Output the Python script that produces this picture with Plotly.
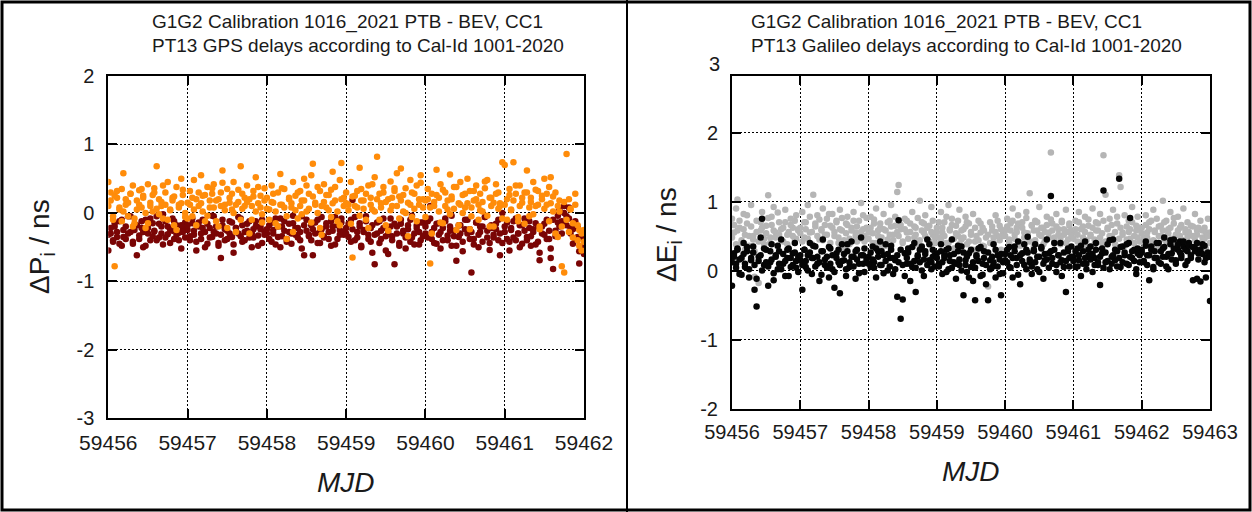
import plotly.graph_objects as go

# ---------------------------------------------------------------------------
# Data: GPS (left) and Galileo (right) delay differences vs. MJD.
# Two satellite tracks are reported at every epoch (suffix _a / _b).
# ---------------------------------------------------------------------------
mjd_gps = [
    59456.00, 59456.03, 59456.06, 59456.08, 59456.11, 59456.14, 59456.17, 59456.19, 59456.22, 59456.25, 59456.28, 59456.31,
    59456.33, 59456.36, 59456.39, 59456.42, 59456.44, 59456.47, 59456.50, 59456.53, 59456.56, 59456.58, 59456.61, 59456.64,
    59456.67, 59456.69, 59456.72, 59456.75, 59456.78, 59456.81, 59456.83, 59456.86, 59456.89, 59456.92, 59456.94, 59456.97,
    59457.00, 59457.03, 59457.06, 59457.08, 59457.11, 59457.14, 59457.17, 59457.19, 59457.22, 59457.25, 59457.28, 59457.31,
    59457.33, 59457.36, 59457.39, 59457.42, 59457.44, 59457.47, 59457.50, 59457.53, 59457.56, 59457.58, 59457.61, 59457.64,
    59457.67, 59457.69, 59457.72, 59457.75, 59457.78, 59457.81, 59457.83, 59457.86, 59457.89, 59457.92, 59457.94, 59457.97,
    59458.00, 59458.03, 59458.06, 59458.08, 59458.11, 59458.14, 59458.17, 59458.19, 59458.22, 59458.25, 59458.28, 59458.31,
    59458.33, 59458.36, 59458.39, 59458.42, 59458.44, 59458.47, 59458.50, 59458.53, 59458.56, 59458.58, 59458.61, 59458.64,
    59458.67, 59458.69, 59458.72, 59458.75, 59458.78, 59458.81, 59458.83, 59458.86, 59458.89, 59458.92, 59458.94, 59458.97,
    59459.00, 59459.03, 59459.06, 59459.08, 59459.11, 59459.14, 59459.17, 59459.19, 59459.22, 59459.25, 59459.28, 59459.31,
    59459.33, 59459.36, 59459.39, 59459.42, 59459.44, 59459.47, 59459.50, 59459.53, 59459.56, 59459.58, 59459.61, 59459.64,
    59459.67, 59459.69, 59459.72, 59459.75, 59459.78, 59459.81, 59459.83, 59459.86, 59459.89, 59459.92, 59459.94, 59459.97,
    59460.00, 59460.03, 59460.06, 59460.08, 59460.11, 59460.14, 59460.17, 59460.19, 59460.22, 59460.25, 59460.28, 59460.31,
    59460.33, 59460.36, 59460.39, 59460.42, 59460.44, 59460.47, 59460.50, 59460.53, 59460.56, 59460.58, 59460.61, 59460.64,
    59460.67, 59460.69, 59460.72, 59460.75, 59460.78, 59460.81, 59460.83, 59460.86, 59460.89, 59460.92, 59460.94, 59460.97,
    59461.00, 59461.03, 59461.06, 59461.08, 59461.11, 59461.14, 59461.17, 59461.19, 59461.22, 59461.25, 59461.28, 59461.31,
    59461.33, 59461.36, 59461.39, 59461.42, 59461.44, 59461.47, 59461.50, 59461.53, 59461.56, 59461.58, 59461.61, 59461.64,
    59461.67, 59461.69, 59461.72, 59461.75, 59461.78, 59461.81, 59461.83, 59461.86, 59461.89, 59461.92, 59461.94, 59461.97,
    59462.00,
]

# Delta P1 (orange) in ns
dp1_a = [
    0.45, 0.30, -0.10, -0.78, 0.22, 0.05, 0.35, 0.58, 0.12, -0.05, 0.28, 0.40, -0.15, 0.18, 0.33, 0.08, 0.25, -0.22,
    0.42, 0.15, 0.02, 0.36, 0.68, 0.20, 0.10, -0.08, 0.30, 0.45, 0.05, 0.22, -0.18, 0.38, 0.12, 0.50, 0.26, 0.00,
    0.15, 0.32, -0.05, 0.48, 0.20, 0.10, 0.55, 0.25, -0.12, 0.38, 0.08, 0.28, 0.42, 0.18, -0.20, 0.30, 0.62, 0.12,
    0.35, 0.22, 0.05, 0.45, -0.28, 0.16, 0.68, 0.28, 0.10, 0.40, 0.20, -0.10, 0.32, 0.52, 0.14, 0.25, -0.02, 0.36,
    0.22, 0.05, 0.40, 0.15, -0.15, 0.30, 0.57, 0.12, 0.35, -0.38, 0.20, 0.08, 0.45, 0.25, -0.08, 0.32, 0.18, 0.50,
    0.02, 0.28, 0.55, 0.72, 0.15, 0.38, -0.22, 0.10, 0.42, 0.26, 0.04, 0.34, 0.60, 0.18, -0.12, 0.48, 0.73, 0.22,
    0.30, 0.12, 0.45, -0.65, 0.25, 0.08, 0.66, 0.35, 0.18, -0.10, 0.40, 0.22, 0.05, 0.52, 0.82, 0.28, 0.14, 0.38,
    -0.18, 0.20, 0.46, 0.10, 0.32, 0.58, 0.24, 0.65, 0.02, 0.36, 0.15, 0.48, -0.06, 0.28, 0.40, 0.12, 0.55, 0.20,
    0.18, 0.35, -0.74, 0.28, 0.10, 0.63, 0.22, 0.42, -0.15, 0.30, 0.05, 0.56, 0.20, 0.38, -0.25, 0.14, 0.45, 0.26,
    0.08, 0.50, 0.32, -0.05, 0.18, 0.40, 0.12, 0.28, 0.02, 0.36, 0.48, -0.20, 0.22, 0.15, 0.42, 0.30, 0.10, 0.74,
    0.70, 0.20, 0.35, 0.05, 0.74, 0.28, -0.12, 0.40, 0.15, 0.30, 0.62, -0.05, 0.22, 0.45, 0.10, 0.32, -0.20, 0.25,
    0.50, 0.12, 0.38, 0.52, 0.02, 0.30, -0.35, 0.18, -0.78, -0.87, 0.86, 0.20, 0.05, -0.15, 0.28, -0.40, -0.25, -0.55,
    -0.42,
]
dp1_b = [
    0.10, 0.18, -0.05, 0.25, 0.32, 0.08, -0.12, 0.02, 0.20, 0.15, 0.28, -0.20, -0.08, 0.05, 0.12, 0.35, 0.22, 0.00,
    -0.15, 0.10, 0.26, 0.30, 0.06, -0.02, 0.16, 0.40, 0.12, -0.10, 0.04, 0.18, 0.24, -0.25, 0.08, 0.14, 0.34, -0.06,
    -0.08, 0.12, 0.22, 0.05, -0.18, 0.30, 0.14, 0.02, 0.26, -0.04, 0.18, 0.36, 0.08, -0.12, 0.20, 0.10, 0.44, 0.04,
    -0.22, 0.15, 0.28, 0.00, 0.12, 0.34, -0.10, 0.06, 0.22, 0.16, -0.30, 0.10, 0.24, 0.02, 0.38, 0.08, -0.14, 0.18,
    0.06, -0.10, 0.16, 0.28, 0.02, -0.20, 0.12, 0.36, 0.08, -0.05, 0.22, 0.14, -0.28, 0.04, 0.30, 0.10, -0.02, 0.18,
    0.40, 0.06, -0.14, 0.24, 0.12, 0.00, 0.32, -0.32, 0.16, 0.08, 0.26, -0.06, 0.14, 0.38, 0.02, -0.18, 0.20, 0.10,
    0.14, 0.04, -0.16, 0.24, 0.10, 0.32, -0.04, 0.18, 0.06, 0.28, -0.22, 0.12, 0.42, 0.02, 0.20, -0.10, 0.08, 0.30,
    0.16, -0.26, 0.04, 0.22, 0.36, 0.10, -0.08, 0.18, 0.26, 0.00, -0.34, 0.12, 0.30, 0.06, -0.12, 0.20, 0.44, 0.08,
    -0.06, 0.20, 0.08, -0.30, 0.16, 0.26, 0.02, -0.14, 0.34, 0.10, 0.18, -0.02, 0.24, 0.06, 0.38, -0.18, 0.12, 0.00,
    0.28, 0.14, -0.24, 0.08, 0.32, 0.20, -0.10, 0.04, 0.16, 0.46, -0.04, 0.22, 0.10, -0.20, 0.28, 0.06, 0.14, -0.08,
    0.12, -0.10, 0.26, 0.04, 0.18, 0.40, -0.06, 0.10, 0.22, -0.16, 0.30, 0.08, 0.16, -0.02, 0.34, 0.12, -0.24, 0.20,
    0.06, 0.28, -0.12, 0.14, 0.24, -0.30, 0.10, 0.02, -0.20, 0.16, -0.10, -0.28, 0.06, -0.36, 0.12, -0.18, -0.48, -0.30,
    -0.25,
]

# Delta P2 (dark red) in ns
dp2_a = [
    -0.55, -0.30, -0.42, -0.20, -0.35, -0.12, -0.48, -0.25, -0.38, -0.05, -0.28, -0.45, -0.18, -0.62, -0.33, -0.22, -0.50, -0.10,
    -0.30, -0.40, -0.15, -0.27, -0.05, -0.36, -0.20, -0.46, -0.12, -0.31, -0.24, -0.08, -0.38, -0.18, -0.29, -0.52, -0.22, -0.14,
    -0.25, -0.40, -0.15, -0.32, -0.55, -0.20, -0.38, -0.10, -0.28, -0.45, -0.22, -0.35, -0.05, -0.30, -0.48, -0.66, -0.18, -0.40,
    -0.26, -0.12, -0.35, -0.58, -0.22, -0.30, -0.08, -0.42, -0.28, -0.16, -0.36, -0.50, -0.24, -0.12, -0.33, -0.20, -0.44, -0.27,
    -0.30, -0.18, -0.42, -0.25, -0.08, -0.35, -0.50, -0.20, -0.12, -0.38, -0.28, -0.45, -0.15, -0.32, -0.22, -0.40, -0.05, -0.62,
    -0.26, -0.34, -0.18, -0.62, -0.30, -0.10, -0.44, -0.24, -0.36, -0.15, -0.28, -0.48, -0.20, -0.06, -0.38, -0.25, -0.14, -0.32,
    -0.22, -0.35, -0.10, 0.19, -0.40, -0.28, -0.15, -0.48, -0.25, -0.05, -0.32, -0.42, -0.18, -0.75, -0.30, -0.12, -0.38, -0.22,
    -0.55, -0.28, -0.08, -0.34, -0.75, -0.20, -0.44, -0.16, -0.30, -0.52, -0.24, -0.10, -0.36, -0.46, -0.18, -0.28, -0.40, -0.14,
    -0.30, -0.12, 0.10, -0.38, -0.22, -0.45, -0.15, -0.28, -0.40, -0.08, -0.33, -0.20, -0.48, -0.26, -0.70, -0.35, -0.18, -0.42,
    -0.10, -0.30, -0.24, -0.87, -0.38, -0.14, -0.50, -0.28, -0.20, -0.06, -0.36, -0.44, -0.22, -0.32, -0.16, -0.40, -0.62, 0.00,
    -0.20, -0.38, -0.55, -0.25, -0.12, -0.40, -0.30, -0.18, -0.45, -0.08, -0.35, -0.22, -0.48, -0.28, -0.15, -0.42, -0.69, -0.20,
    -0.32, -0.10, -0.38, -0.66, -0.82, -0.26, -0.14, 0.05, -0.30, 0.10, -0.05, 0.08, -0.22, -0.45, -0.12, -0.35, -0.74, -0.50,
    -0.60,
]
dp2_b = [
    -0.32, -0.22, -0.40, -0.15, -0.28, -0.45, -0.10, -0.35, -0.20, -0.30, -0.05, -0.42, -0.25, -0.18, -0.38, -0.12, -0.28, -0.48,
    -0.22, -0.08, -0.34, -0.26, -0.40, -0.16, -0.30, -0.02, -0.36, -0.20, -0.44, -0.26, -0.12, -0.32, -0.40, -0.18, -0.28, -0.36,
    -0.18, -0.34, -0.08, -0.26, -0.42, -0.14, -0.30, -0.22, -0.50, -0.16, -0.36, -0.04, -0.28, -0.20, -0.44, -0.32, -0.10, -0.24,
    -0.38, -0.30, -0.14, -0.46, -0.22, -0.06, -0.34, -0.18, -0.40, -0.26, -0.12, -0.30, -0.36, -0.20, -0.48, -0.24, -0.10, -0.32,
    -0.24, -0.38, -0.14, -0.30, -0.46, -0.20, -0.08, -0.34, -0.26, -0.42, -0.16, -0.30, -0.04, -0.22, -0.36, -0.28, -0.52, -0.18,
    -0.10, -0.32, -0.40, -0.24, -0.14, -0.44, -0.28, -0.06, -0.34, -0.20, -0.38, -0.12, -0.26, -0.46, -0.18, -0.32, -0.08, -0.28,
    -0.30, -0.16, -0.42, -0.24, -0.06, -0.36, -0.20, -0.50, -0.28, -0.12, -0.38, -0.22, -0.58, -0.32, -0.14, -0.44, -0.26, -0.08,
    -0.34, -0.60, -0.20, -0.40, -0.16, -0.30, -0.48, -0.10, -0.26, -0.36, -0.18, -0.42, -0.04, -0.30, -0.22, -0.46, -0.14, -0.34,
    -0.20, -0.36, -0.08, -0.28, -0.44, -0.16, -0.32, -0.52, -0.22, -0.12, -0.40, -0.26, -0.04, -0.34, -0.48, -0.18, -0.30, -0.56,
    -0.24, -0.10, -0.38, -0.28, -0.46, -0.14, -0.32, -0.20, -0.42, -0.06, -0.26, -0.54, -0.18, -0.36, -0.24, -0.10, -0.30, -0.44,
    -0.28, -0.14, -0.42, -0.22, -0.36, -0.08, -0.30, -0.50, -0.18, -0.26, -0.40, -0.12, -0.34, -0.24, -0.46, -0.20, -0.58, -0.30,
    -0.16, -0.38, -0.26, -0.52, -0.10, -0.34, -0.04, -0.20, -0.12, 0.00, -0.18, -0.08, -0.30, -0.24, -0.40, -0.20, -0.56, -0.34,
    -0.38,
]

mjd_gal = [
    59456.00, 59456.03, 59456.06, 59456.08, 59456.11, 59456.14, 59456.17, 59456.19, 59456.22, 59456.25, 59456.28, 59456.31,
    59456.33, 59456.36, 59456.39, 59456.42, 59456.44, 59456.47, 59456.50, 59456.53, 59456.56, 59456.58, 59456.61, 59456.64,
    59456.67, 59456.69, 59456.72, 59456.75, 59456.78, 59456.81, 59456.83, 59456.86, 59456.89, 59456.92, 59456.94, 59456.97,
    59457.00, 59457.03, 59457.06, 59457.08, 59457.11, 59457.14, 59457.17, 59457.19, 59457.22, 59457.25, 59457.28, 59457.31,
    59457.33, 59457.36, 59457.39, 59457.42, 59457.44, 59457.47, 59457.50, 59457.53, 59457.56, 59457.58, 59457.61, 59457.64,
    59457.67, 59457.69, 59457.72, 59457.75, 59457.78, 59457.81, 59457.83, 59457.86, 59457.89, 59457.92, 59457.94, 59457.97,
    59458.00, 59458.03, 59458.06, 59458.08, 59458.11, 59458.14, 59458.17, 59458.19, 59458.22, 59458.25, 59458.28, 59458.31,
    59458.33, 59458.36, 59458.39, 59458.42, 59458.44, 59458.47, 59458.50, 59458.53, 59458.56, 59458.58, 59458.61, 59458.64,
    59458.67, 59458.69, 59458.72, 59458.75, 59458.78, 59458.81, 59458.83, 59458.86, 59458.89, 59458.92, 59458.94, 59458.97,
    59459.00, 59459.03, 59459.06, 59459.08, 59459.11, 59459.14, 59459.17, 59459.19, 59459.22, 59459.25, 59459.28, 59459.31,
    59459.33, 59459.36, 59459.39, 59459.42, 59459.44, 59459.47, 59459.50, 59459.53, 59459.56, 59459.58, 59459.61, 59459.64,
    59459.67, 59459.69, 59459.72, 59459.75, 59459.78, 59459.81, 59459.83, 59459.86, 59459.89, 59459.92, 59459.94, 59459.97,
    59460.00, 59460.03, 59460.06, 59460.08, 59460.11, 59460.14, 59460.17, 59460.19, 59460.22, 59460.25, 59460.28, 59460.31,
    59460.33, 59460.36, 59460.39, 59460.42, 59460.44, 59460.47, 59460.50, 59460.53, 59460.56, 59460.58, 59460.61, 59460.64,
    59460.67, 59460.69, 59460.72, 59460.75, 59460.78, 59460.81, 59460.83, 59460.86, 59460.89, 59460.92, 59460.94, 59460.97,
    59461.00, 59461.03, 59461.06, 59461.08, 59461.11, 59461.14, 59461.17, 59461.19, 59461.22, 59461.25, 59461.28, 59461.31,
    59461.33, 59461.36, 59461.39, 59461.42, 59461.44, 59461.47, 59461.50, 59461.53, 59461.56, 59461.58, 59461.61, 59461.64,
    59461.67, 59461.69, 59461.72, 59461.75, 59461.78, 59461.81, 59461.83, 59461.86, 59461.89, 59461.92, 59461.94, 59461.97,
    59462.00, 59462.03, 59462.06, 59462.08, 59462.11, 59462.14, 59462.17, 59462.19, 59462.22, 59462.25, 59462.28, 59462.31,
    59462.33, 59462.36, 59462.39, 59462.42, 59462.44, 59462.47, 59462.50, 59462.53, 59462.56, 59462.58, 59462.61, 59462.64,
    59462.67, 59462.69, 59462.72, 59462.75, 59462.78, 59462.81, 59462.83, 59462.86, 59462.89, 59462.92, 59462.94, 59462.97,
    59463.00,
]

# Delta E1 (grey) in ns
de1_a = [
    0.75, 0.55, 0.90, 1.03, 0.62, 0.40, 0.82, 0.30, 0.68, 0.50, 0.95, 0.45, -0.09, 0.72, -0.18, 0.58, 0.85, 0.38,
    0.65, 1.09, 0.48, 0.78, 0.92, 0.55, 0.35, 0.70, 0.60, 0.42, 0.88, 0.52, 0.30, 0.75, 0.62, 0.45, 0.80, 0.58,
    0.62, 0.85, 0.48, 0.70, 0.95, 0.55, 0.38, 1.10, 0.68, 0.80, 0.45, 0.60, 0.90, 0.52, 0.75, 0.35, 0.65, 0.82,
    0.50, 0.72, 0.40, 0.88, 0.58, 0.30, 0.68, 0.78, 0.46, 0.62, 0.85, 0.55, 0.42, 0.72, 0.98, 0.60, 0.50, 0.76,
    0.55, 0.78, 0.40, 0.68, 0.90, 0.50, 0.62, 0.35, 0.82, 0.58, 0.45, 0.72, 0.95, 0.52, 0.65, 1.14, 1.24, 0.60,
    0.42, 0.75, 0.55, 0.30, 0.68, 0.85, 0.48, 0.62, 0.38, 1.01, 0.70, 0.55, 0.80, 0.45, 0.65, 0.92, 0.52, 0.40,
    0.62, 0.48, 0.85, 0.55, 0.70, 0.40, 0.95, 0.58, 0.75, 0.32, 0.65, 0.50, 0.88, 0.45, 0.60, 0.78, 0.38, 0.68,
    0.52, 0.82, 0.42, 0.25, 0.72, 0.55, 0.62, 0.35, 0.48, -0.23, 0.70, 0.58, 0.40, 0.80, 0.50, 0.65, 0.30, 0.55,
    0.58, 0.75, 0.45, 0.68, 0.90, 0.52, 0.62, 0.80, 0.40, 0.70, 0.55, 0.85, 0.48, 1.12, 0.65, 0.35, 0.72, 0.58,
    0.92, 0.50, 0.62, 0.42, 0.78, 0.55, 1.71, 0.68, 0.48, 0.82, 0.60, 0.38, 0.72, 0.52, 0.88, 0.45, 0.65, 0.58,
    0.55, 0.72, 0.42, 0.85, 0.60, 0.48, 0.78, 0.35, 0.65, 0.52, 0.90, 0.45, 0.70, 0.58, 0.82, 0.40, 1.67, 1.10,
    0.62, 0.75, 0.50, 0.88, 0.38, 0.68, 1.38, 1.21, 0.55, 0.80, 0.45, 0.72, 0.60, 0.92, 0.50, 0.65, 0.78, 0.42,
    0.62, 0.48, 0.80, 0.55, 0.70, 0.42, 0.88, 0.58, 0.75, 0.50, 0.65, 1.01, 0.45, 0.72, 0.60, 0.85, 0.38, 0.68,
    0.52, 0.78, 0.62, 0.45, 0.90, 0.55, 0.70, 0.40, 0.65, 0.50, 0.82, 0.58, 0.35, 0.72, 0.48, 0.62, 0.55, 0.75,
    0.55,
]
de1_b = [
    0.48, 0.66, 0.38, 0.58, 0.72, 0.44, 0.60, 0.52, 0.80, 0.36, 0.64, 0.50, 0.28, 0.56, 0.42, 0.70, 0.62, 0.46,
    0.54, 0.76, 0.40, 0.66, 0.58, 0.48, 0.84, 0.52, 0.44, 0.62, 0.70, 0.38, 0.56, 0.66, 0.50, 0.72, 0.46, 0.60,
    0.54, 0.42, 0.70, 0.60, 0.46, 0.78, 0.56, 0.36, 0.64, 0.50, 0.74, 0.58, 0.44, 0.66, 0.52, 0.82, 0.40, 0.62,
    0.56, 0.70, 0.48, 0.60, 0.76, 0.44, 0.54, 0.66, 0.38, 0.58, 0.72, 0.50, 0.64, 0.46, 0.56, 0.80, 0.42, 0.62,
    0.46, 0.62, 0.54, 0.74, 0.40, 0.58, 0.68, 0.48, 0.60, 0.36, 0.70, 0.52, 0.64, 0.44, 0.78, 0.56, 0.50, 0.66,
    0.40, 0.60, 0.72, 0.46, 0.56, 0.34, 0.64, 0.52, 0.76, 0.44, 0.58, 0.68, 0.50, 0.62, 0.42, 0.56, 0.72, 0.48,
    0.56, 0.70, 0.44, 0.62, 0.50, 0.78, 0.40, 0.60, 0.66, 0.46, 0.54, 0.72, 0.38, 0.58, 0.48, 0.64, 0.70, 0.42,
    0.56, 0.30, 0.62, 0.50, 0.44, 0.68, 0.36, 0.58, 0.26, 0.52, 0.40, 0.64, 0.48, 0.56, 0.72, 0.44, 0.60, 0.50,
    0.50, 0.64, 0.40, 0.58, 0.72, 0.46, 0.56, 0.68, 0.36, 0.62, 0.48, 0.76, 0.54, 0.42, 0.66, 0.58, 0.44, 0.70,
    0.52, 0.62, 0.38, 0.56, 0.66, 0.48, 0.74, 0.58, 0.42, 0.64, 0.52, 0.46, 0.70, 0.60, 0.40, 0.56, 0.68, 0.50,
    0.46, 0.60, 0.52, 0.70, 0.40, 0.64, 0.56, 0.44, 0.74, 0.50, 0.62, 0.38, 0.58, 0.68, 0.48, 0.54, 0.72, 0.42,
    0.60, 0.50, 0.66, 0.44, 0.56, 0.78, 0.46, 0.62, 0.52, 0.36, 0.64, 0.56, 0.46, 0.70, 0.40, 0.58, 0.48, 0.62,
    0.54, 0.40, 0.66, 0.48, 0.60, 0.72, 0.44, 0.56, 0.36, 0.64, 0.50, 0.58, 0.70, 0.42, 0.54, 0.62, 0.46, 0.76,
    0.38, 0.58, 0.50, 0.66, 0.42, 0.60, 0.48, 0.56, 0.34, 0.64, 0.44, 0.52, 0.62, 0.40, 0.58, 0.46, 0.32, 0.50,
    0.40,
]

# Delta E5a (black) in ns
de5_a = [
    -0.22, 0.25, 0.10, 0.32, -0.05, 0.18, 0.40, 0.05, 0.28, -0.10, 0.15, 0.35, -0.28, -0.52, 0.20, 0.48, 0.75, 0.08,
    0.30, -0.22, 0.12, 0.38, -0.14, 0.22, 0.02, 0.28, 0.45, 0.10, -0.08, 0.18, 0.32, 0.05, 0.25, 0.40, 0.14, -0.02,
    0.15, -0.28, 0.30, 0.05, 0.22, 0.40, -0.05, 0.18, 0.35, 0.10, -0.15, 0.28, 0.45, 0.08, 0.20, -0.10, 0.32, 0.02,
    -0.25, 0.25, 0.12, -0.33, 0.38, 0.15, -0.08, 0.28, 0.05, 0.42, 0.20, -0.12, 0.30, 0.10, 0.48, 0.22, -0.02, 0.18,
    0.20, 0.05, 0.35, 0.12, -0.10, 0.28, 0.42, 0.08, 0.22, 0.38, 0.00, 0.18, 0.30, -0.05, 0.15, -0.38, 0.73, -0.70,
    -0.42, 0.25, 0.10, 0.32, -0.15, 0.05, 0.40, -0.31, 0.20, 0.12, 0.35, -0.08, 0.28, 0.45, 0.15, 0.02, 0.30, 0.22,
    0.25, 0.10, 0.38, -0.05, 0.18, 0.30, 0.02, 0.22, 0.45, 0.12, -0.12, 0.28, 0.08, 0.35, -0.36, 0.15, -0.02, 0.25,
    0.05, -0.15, -0.43, 0.20, 0.32, -0.08, 0.10, 0.28, -0.20, -0.43, 0.15, 0.05, 0.38, -0.10, 0.22, -0.05, -0.36, 0.12,
    0.15, 0.30, 0.05, 0.22, -0.10, 0.35, 0.18, 0.42, -0.20, 0.25, 0.08, 0.30, 0.49, 0.12, -0.05, 0.28, 0.38, 0.02,
    0.20, 0.32, -0.12, 0.15, 0.45, 0.25, 1.08, 0.10, 0.30, -0.02, 0.22, 0.40, 0.15, 0.05, -0.31, 0.28, 0.18, 0.35,
    0.20, 0.05, 0.32, 0.15, -0.08, 0.28, 0.42, 0.10, 0.22, 0.35, -0.02, 0.18, 0.30, 0.08, -0.21, 0.25, 1.16, 0.12,
    0.38, 0.02, 0.20, 0.45, 0.15, 0.28, 1.33, 0.05, 0.35, 0.22, 0.10, 0.40, 0.76, 0.18, 0.30, -0.05, 0.25, 0.12,
    0.30, 0.12, 0.42, 0.22, -0.14, 0.35, 0.05, 0.28, 0.18, 0.40, 0.10, 0.32, 0.48, 0.20, 0.02, 0.38, 0.25, 0.45,
    0.15, 0.30, 0.42, 0.22, 0.35, 0.08, 0.28, 0.40, 0.18, -0.14, 0.32, -0.12, 0.25, -0.16, 0.38, 0.12, -0.10, 0.20,
    -0.44,
]
de5_b = [
    0.12, 0.20, 0.04, 0.30, 0.16, -0.06, 0.24, 0.10, 0.34, 0.02, 0.18, 0.26, 0.08, -0.12, 0.14, 0.22, 0.00, 0.32,
    0.12, 0.06, 0.28, 0.16, -0.04, 0.20, 0.36, 0.10, 0.02, 0.24, 0.14, 0.30, -0.08, 0.18, 0.08, 0.26, 0.04, 0.20,
    0.22, 0.08, 0.30, 0.14, 0.00, 0.26, 0.18, 0.36, 0.06, 0.20, 0.12, -0.06, 0.28, 0.16, 0.04, 0.34, 0.10, 0.22,
    -0.02, 0.18, 0.30, 0.08, 0.14, 0.24, 0.02, 0.38, 0.12, 0.20, 0.06, 0.28, 0.16, -0.04, 0.22, 0.10, 0.32, 0.14,
    0.10, 0.26, 0.16, 0.04, 0.32, 0.20, 0.08, 0.28, -0.04, 0.14, 0.24, 0.06, 0.36, 0.18, 0.02, 0.22, 0.12, 0.30,
    0.08, -0.08, 0.18, 0.26, 0.10, 0.34, 0.14, 0.04, 0.22, 0.30, 0.00, 0.16, 0.24, 0.08, 0.38, 0.12, 0.20, 0.06,
    0.18, 0.06, 0.28, 0.12, 0.22, -0.02, 0.32, 0.14, 0.04, 0.24, 0.10, 0.36, 0.16, 0.00, 0.26, 0.08, 0.20, -0.10,
    0.30, 0.12, 0.04, 0.22, 0.14, 0.34, -0.06, 0.18, 0.08, 0.26, 0.02, 0.20, 0.12, 0.30, 0.06, 0.16, 0.24, -0.04,
    0.24, 0.12, 0.34, 0.04, 0.18, 0.28, 0.08, -0.06, 0.22, 0.14, 0.38, 0.02, 0.26, 0.16, 0.06, 0.30, 0.12, 0.20,
    -0.02, 0.34, 0.10, 0.24, 0.16, 0.04, 0.28, 0.18, 0.40, 0.08, 0.22, 0.12, -0.08, 0.26, 0.14, 0.32, 0.06, 0.20,
    0.14, 0.28, 0.06, 0.22, 0.36, 0.10, 0.18, 0.02, 0.30, 0.16, 0.24, 0.08, 0.40, 0.12, 0.20, 0.32, 0.04, 0.26,
    0.14, 0.44, 0.10, 0.22, 0.30, 0.06, 0.18, 0.34, 0.12, 0.26, 0.38, 0.08, 0.20, 0.28, 0.14, 0.02, 0.32, 0.22,
    0.26, 0.14, 0.36, 0.08, 0.22, 0.30, 0.02, 0.18, 0.40, 0.12, 0.28, 0.20, 0.34, 0.06, 0.24, 0.44, 0.16, 0.32,
    0.10, 0.38, 0.26, 0.18, 0.42, 0.30, 0.14, 0.36, 0.22, 0.34, 0.28, 0.40, 0.16, 0.30, 0.24, 0.36, 0.18, 0.26,
    0.20,
]

for series in (dp1_a, dp1_b, dp2_a, dp2_b):
    assert len(series) == len(mjd_gps)
for series in (de1_a, de1_b, de5_a, de5_b):
    assert len(series) == len(mjd_gal)

# Axis ticks
gps_x_ticks = [59456, 59457, 59458, 59459, 59460, 59461, 59462]
gps_y_ticks = [-3, -2, -1, 0, 1, 2]
gal_x_ticks = [59456, 59457, 59458, 59459, 59460, 59461, 59462, 59463]
gal_y_ticks = [-2, -1, 0, 1, 2]
gal_y_top_label = 3

title_gps = ["G1G2 Calibration 1016_2021 PTB - BEV, CC1",
             "PT13 GPS delays according to Cal-Id 1001-2020"]
title_gal = ["G1G2 Calibration 1016_2021 PTB - BEV, CC1",
             "PT13 Galileo delays according to Cal-Id 1001-2020"]

# ---------------------------------------------------------------------------
# Styling
# ---------------------------------------------------------------------------
W, H = 1252, 512
FONT = "Liberation Sans, Arial, sans-serif"
INK = "#1a1a1a"
ORANGE = "#FF8C0A"
DARKRED = "#7A0505"
GREY = "#B5B5B5"
BLACK = "#050505"
MS = 6.5


def px_x(p):
    return p / W


def px_y(p):
    return 1 - p / H


def axis_style(ticks, rng, domain, font_size):
    return dict(
        domain=domain, range=rng, tickvals=ticks, ticktext=[str(t) for t in ticks],
        showline=True, linewidth=2, linecolor="black", mirror="ticks",
        ticks="inside", ticklen=9, tickwidth=2, tickcolor="black",
        showgrid=True, gridcolor="black", gridwidth=1.3, griddash="1.5px,2.5px",
        zeroline=False, fixedrange=True,
        tickfont=dict(family=FONT, size=font_size, color=INK),
    )


fig = go.Figure()
# P2 underneath, P1 on top
fig.add_trace(go.Scatter(x=mjd_gps + mjd_gps, y=dp2_a + dp2_b, mode="markers", xaxis="x", yaxis="y",
                         marker=dict(size=MS, color=DARKRED), hoverinfo="skip"))
fig.add_trace(go.Scatter(x=mjd_gps + mjd_gps, y=dp1_a + dp1_b, mode="markers", xaxis="x", yaxis="y",
                         marker=dict(size=MS, color=ORANGE), hoverinfo="skip"))
# E1 underneath, E5a on top
fig.add_trace(go.Scatter(x=mjd_gal + mjd_gal, y=de1_a + de1_b, mode="markers", xaxis="x2", yaxis="y2",
                         marker=dict(size=MS, color=GREY), hoverinfo="skip"))
fig.add_trace(go.Scatter(x=mjd_gal + mjd_gal, y=de5_a + de5_b, mode="markers", xaxis="x2", yaxis="y2",
                         marker=dict(size=MS, color=BLACK), hoverinfo="skip"))

gal_y_range = [-2, 2.82]
gal_y_domain = [px_y(408.5), px_y(76)]

xa1 = axis_style(gps_x_ticks, [59456, 59462], [px_x(108.3), px_x(584)], 21)
ya1 = axis_style(gps_y_ticks, [-3, 2], [px_y(418.3), px_y(76)], 20)
xa2 = axis_style(gal_x_ticks, [59456, 59463], [px_x(732), px_x(1210)], 20)
ya2 = axis_style(gal_y_ticks, gal_y_range, gal_y_domain, 20)
xa1.update(anchor="y", ticklabelstandoff=4)
xa2.update(anchor="y2", ticklabelstandoff=4)
ya1.update(anchor="x", ticklabelstandoff=8)
ya2.update(anchor="x2", ticklabelstandoff=8)

# paper position of the "3" label, derived from the Galileo y scale
frac = (gal_y_top_label - gal_y_range[0]) / (gal_y_range[1] - gal_y_range[0])
y_top_label = gal_y_domain[0] + frac * (gal_y_domain[1] - gal_y_domain[0])

annotations = []
# panel titles (left aligned two-line blocks)
for i, line in enumerate(title_gps):
    annotations.append(dict(text=line, xref="paper", yref="paper", x=px_x(150), y=px_y(22 + 23 * i),
                            xanchor="left", yanchor="middle", showarrow=False,
                            font=dict(family=FONT, size=19, color=INK)))
for i, line in enumerate(title_gal):
    annotations.append(dict(text=line, xref="paper", yref="paper", x=px_x(749), y=px_y(22 + 23 * i),
                            xanchor="left", yanchor="middle", showarrow=False,
                            font=dict(family=FONT, size=19, color=INK)))
# axis titles
annotations += [
    dict(text="<i>MJD</i>", xref="paper", yref="paper", x=px_x(346), y=px_y(482),
         xanchor="center", yanchor="middle", showarrow=False, font=dict(family=FONT, size=28, color=INK)),
    dict(text="<i>MJD</i>", xref="paper", yref="paper", x=px_x(971), y=px_y(471),
         xanchor="center", yanchor="middle", showarrow=False, font=dict(family=FONT, size=28, color=INK)),
    dict(text="ΔP<sub>i</sub> / ns", xref="paper", yref="paper", x=px_x(41), y=px_y(247),
         xanchor="center", yanchor="middle", textangle=-90, showarrow=False,
         font=dict(family=FONT, size=28, color=INK)),
    dict(text="ΔE<sub>i</sub> / ns", xref="paper", yref="paper", x=px_x(668), y=px_y(235),
         xanchor="center", yanchor="middle", textangle=-90, showarrow=False,
         font=dict(family=FONT, size=28, color=INK)),
    # top tick label of the Galileo axis sits just above the frame
    dict(text=str(gal_y_top_label), xref="paper", yref="paper", x=px_x(722), y=y_top_label,
         xanchor="right", yanchor="middle", showarrow=False, font=dict(family=FONT, size=20, color=INK)),
]

shapes = [
    dict(type="rect", xref="paper", yref="paper", x0=px_x(2), x1=px_x(1250), y0=px_y(510), y1=px_y(2),
         line=dict(color="black", width=3), fillcolor="rgba(0,0,0,0)", layer="above"),
    dict(type="line", xref="paper", yref="paper", x0=px_x(627), x1=px_x(627), y0=0, y1=1,
         line=dict(color="black", width=2), layer="above"),
]

fig.update_layout(
    width=W, height=H, margin=dict(l=0, r=0, t=0, b=0, autoexpand=False),
    paper_bgcolor="white", plot_bgcolor="white", showlegend=False,
    xaxis=xa1, yaxis=ya1, xaxis2=xa2, yaxis2=ya2,
    annotations=annotations, shapes=shapes,
    font=dict(family=FONT, color=INK),
)

fig.write_html("out.html", config={"displayModeBar": False})
